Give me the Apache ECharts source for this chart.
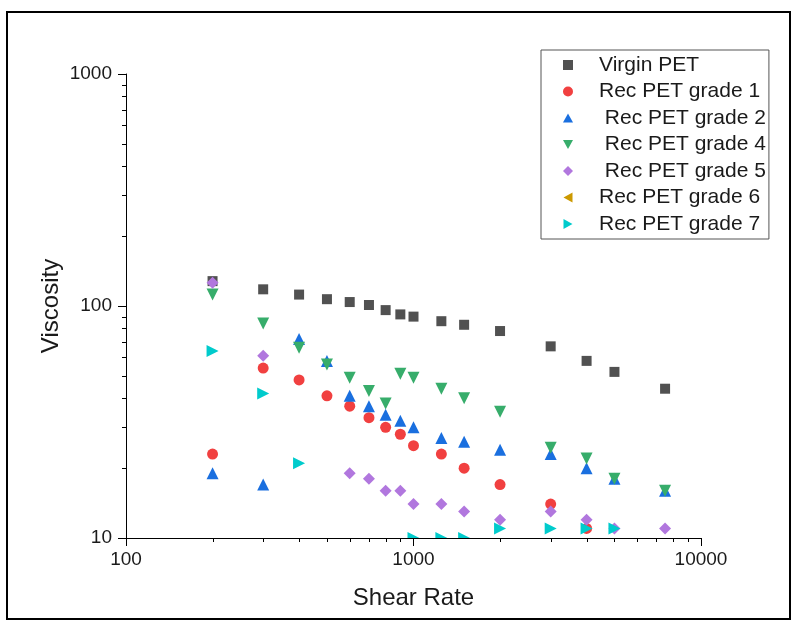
<!DOCTYPE html>
<html>
<head>
<meta charset="utf-8">
<title>Viscosity vs Shear Rate</title>
<script src="https://cdn.jsdelivr.net/npm/echarts@6/dist/echarts.min.js"></script>
<style>
  html, body { margin: 0; padding: 0; background: #fff; }
  #chart { width: 798px; height: 624px; }
</style>
</head>
<body>
<div id="chart"></div>
<script>
// Shear rate values per series
const rateVirgin = [200, 300, 400, 500, 600, 700, 800, 900, 1000, 1250, 1500, 2000, 3000, 4000, 5000, 7500];
const rateG1 = [200, 300, 400, 500, 600, 700, 800, 900, 1000, 1250, 1500, 2000, 3000, 4000];
const rateG2 = [200, 300, 400, 500, 600, 700, 800, 900, 1000, 1250, 1500, 2000, 3000, 4000, 5000, 7500];
const rateG4 = [200, 300, 400, 500, 600, 700, 800, 900, 1000, 1250, 1500, 2000, 3000, 4000, 5000, 7500];
const rateG5 = [200, 300, 600, 700, 800, 900, 1000, 1250, 1500, 2000, 3000, 4000, 5000, 7500];
const rateG6 = [];
const rateG7 = [200, 300, 400, 1000, 1250, 1500, 2000, 3000, 4000, 5000];

// Viscosity values per series
const viscVirgin = [128, 118, 112, 107, 104, 101, 96, 92, 90, 86, 83, 78, 67, 58, 52, 44];
const viscG1 = [23, 54, 48, 41, 37, 33, 30, 28, 25, 23, 20, 17, 14, 11];
const viscG2 = [19, 17, 72, 58, 41, 37, 34, 32, 30, 27, 26, 24, 23, 20, 18, 16];
const viscG4 = [112, 84, 66, 56, 49, 43, 38, 51, 49, 44, 40, 35, 24.5, 22, 18, 16];
const viscG5 = [126, 61, 19, 18, 16, 16, 14, 14, 13, 12, 13, 12, 11, 11];
const viscG6 = [];
const viscG7 = [64, 42, 21, 10, 10, 10, 11, 11, 11, 11];

// Series names as shown in the legend
const names = ['Virgin PET', 'Rec PET grade 1', ' Rec PET grade 2', ' Rec PET grade 4',
               ' Rec PET grade 5', 'Rec PET grade 6', 'Rec PET grade 7'];

// Log-axis minor tick positions
const minorX = [200, 300, 400, 500, 600, 700, 800, 900, 2000, 3000, 4000, 5000, 6000, 7000, 8000, 9000];
const minorY = [20, 30, 40, 50, 60, 70, 80, 90, 200, 300, 400, 500, 600, 700, 800, 900];

const FONT = '"Liberation Sans", Arial, sans-serif';
const pair = (xs, ys) => xs.map((x, i) => [x, ys[i]]);

// Legend icons for the oriented triangles
const TRI_UP = 'path://M5,0 L10,9 L0,9 Z';
const TRI_DOWN = 'path://M0,0 L10,0 L5,9 Z';
const TRI_LEFT = 'path://M9,0 L9,10 L0,5 Z';
const TRI_RIGHT = 'path://M0,0 L9,5 L0,10 Z';

const styles = [
  { color: '#515151', symbol: 'rect', size: 10, rotate: 0, icon: 'rect' },
  { color: '#F14040', symbol: 'circle', size: 11, rotate: 0, icon: 'circle' },
  { color: '#1A6FDF', symbol: 'triangle', size: 12, rotate: 0, icon: TRI_UP },
  { color: '#37AD6B', symbol: 'triangle', size: 12, rotate: 180, icon: TRI_DOWN },
  { color: '#B177DE', symbol: 'diamond', size: 12, rotate: 0, icon: 'diamond' },
  { color: '#CC9900', symbol: 'triangle', size: 12, rotate: 90, icon: TRI_LEFT },
  { color: '#00CBCC', symbol: 'triangle', size: 12, rotate: -90, icon: TRI_RIGHT }
];
const seriesData = [
  pair(rateVirgin, viscVirgin), pair(rateG1, viscG1), pair(rateG2, viscG2),
  pair(rateG4, viscG4), pair(rateG5, viscG5), pair(rateG6, viscG6), pair(rateG7, viscG7)
];

const scatterSeries = names.map((name, i) => ({
  name: name,
  type: 'scatter',
  data: seriesData[i],
  symbol: styles[i].symbol,
  symbolSize: styles[i].size,
  symbolRotate: styles[i].rotate,
  itemStyle: { color: styles[i].color, opacity: 1 },
  z: 2
}));

const tickLine = (x1, y1, x2, y2) => ({
  type: 'line',
  shape: { x1: x1, y1: y1, x2: x2, y2: y2 },
  style: { stroke: '#000', lineWidth: 1 }
});

const minorSeries = [
  {
    type: 'custom',
    silent: true,
    clip: false,
    z: 12,
    data: minorX.map(v => [v, 10]),
    renderItem: (params, api) => {
      const p = api.coord([api.value(0), api.value(1)]);
      return tickLine(Math.round(p[0]) + 0.5, p[1], Math.round(p[0]) + 0.5, p[1] + 4);
    }
  },
  {
    type: 'custom',
    silent: true,
    clip: false,
    z: 12,
    data: minorY.map(v => [100, v]),
    renderItem: (params, api) => {
      const p = api.coord([api.value(0), api.value(1)]);
      return tickLine(p[0] - 4, Math.round(p[1]) + 0.5, p[0], Math.round(p[1]) + 0.5);
    }
  }
];

const axisCommon = {
  type: 'log',
  logBase: 10,
  z: 10,
  splitLine: { show: false },
  axisLine: { show: true, lineStyle: { color: '#000', width: 1 } },
  axisTick: { show: true, inside: false, length: 8, lineStyle: { color: '#000', width: 1 } },
  axisLabel: { color: '#1a1a1a', fontSize: 19, fontFamily: FONT, formatter: v => String(v) },
  nameLocation: 'middle',
  nameMoveOverlap: false,
  nameTextStyle: { color: '#1a1a1a', fontSize: 24, fontFamily: FONT }
};

const chart = echarts.init(document.getElementById('chart'), null, { renderer: 'canvas' });
chart.setOption({
  animation: false,
  backgroundColor: '#fff',
  grid: { left: 126, top: 74, right: 97, bottom: 86, containLabel: false },
  xAxis: Object.assign({}, axisCommon, {
    min: 100, max: 10000,
    name: 'Shear Rate', nameGap: 48,
    axisLabel: Object.assign({}, axisCommon.axisLabel, { margin: 12 })
  }),
  yAxis: Object.assign({}, axisCommon, {
    min: 10, max: 1000,
    name: 'Viscosity', nameGap: 63,
    axisLabel: Object.assign({}, axisCommon.axisLabel, { margin: 14 })
  }),
  legend: {
    data: names.map((name, i) => ({ name: name, icon: styles[i].icon })),
    orient: 'vertical',
    left: 541,
    top: 50,
    padding: [2, 3, 2, 22],
    itemGap: 0.5,
    itemWidth: 10,
    itemHeight: 10,
    borderColor: '#555',
    borderWidth: 1,
    textStyle: { color: '#1a1a1a', fontSize: 21, fontFamily: FONT, lineHeight: 26, padding: [0, 0, 0, 21] }
  },
  graphic: [
    // page frame
    { type: 'rect', z: 0, silent: true,
      shape: { x: 7, y: 12, width: 783, height: 607 },
      style: { fill: 'none', stroke: '#000', lineWidth: 2 } },
    // hides marker parts falling below the x axis
    { type: 'rect', z: 5, silent: true,
      shape: { x: 110, y: 538.5, width: 610, height: 14 },
      style: { fill: '#fff' } }
  ],
  series: scatterSeries.concat(minorSeries)
});
</script>
</body>
</html>
